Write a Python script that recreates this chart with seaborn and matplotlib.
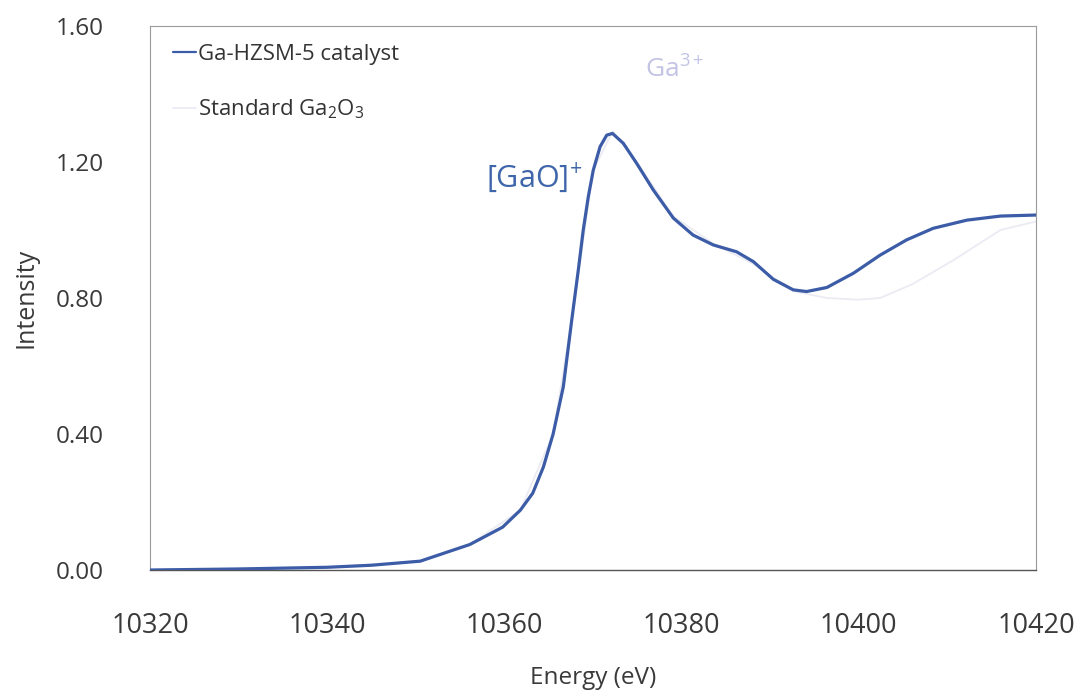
import numpy as np
import pandas as pd
import matplotlib
matplotlib.use("Agg")
import matplotlib.pyplot as plt
import seaborn as sns

# ---- data ----
energy_cat = [10320, 10330, 10340, 10345, 10350.5, 10356.1, 10359.8, 10361.8, 10363.2,
              10364.4, 10365.5, 10366.65, 10367.6, 10368.34, 10368.9, 10369.47, 10370.03,
              10370.8, 10371.55, 10372.2, 10373.42, 10374.93, 10376.8, 10379.07, 10381.3,
              10383.58, 10386.2, 10388.1, 10390.35, 10392.6, 10394.1, 10396.4, 10399.4,
              10402.4, 10405.4, 10408.4, 10412.2, 10416, 10420]
int_cat = [0.0, 0.003, 0.008, 0.014, 0.026, 0.075, 0.126, 0.176, 0.226,
           0.303, 0.40, 0.539, 0.735, 0.882, 1.0, 1.098, 1.176,
           1.245, 1.279, 1.284, 1.255, 1.196, 1.118, 1.035, 0.985,
           0.956, 0.936, 0.907, 0.855, 0.824, 0.819, 0.831, 0.873,
           0.926, 0.971, 1.005, 1.029, 1.041, 1.044]

energy_std = [10320, 10340, 10350.5, 10356.1, 10361.8, 10365.5, 10367.6, 10370.03,
              10372.2, 10374.93, 10379.07, 10383.58, 10388.1, 10392.6, 10396.4,
              10400.0, 10402.4, 10406.0, 10410.6, 10416, 10420]
int_std = [0.0, 0.008, 0.026, 0.075, 0.176, 0.40, 0.735, 1.176,
           1.29, 1.20, 1.04, 0.96, 0.90, 0.82, 0.80,
           0.795, 0.80, 0.84, 0.91, 1.0, 1.025]

series_names = ["Ga-HZSM-5 catalyst", "Standard Ga$_2$O$_3$"]
x_ticks = [10320, 10340, 10360, 10380, 10400, 10420]
y_ticks = [0.0, 0.4, 0.8, 1.2, 1.6]

# ---- build table ----
df = pd.concat([
    pd.DataFrame({"Energy": energy_cat, "Intensity": int_cat, "Series": series_names[0]}),
    pd.DataFrame({"Energy": energy_std, "Intensity": int_std, "Series": series_names[1]}),
])

sns.set_style("white")
plt.rcParams["font.family"] = ["Open Sans", "DejaVu Sans"]
plt.rcParams["mathtext.fontset"] = "custom"
plt.rcParams["mathtext.rm"] = "Open Sans"
plt.rcParams["mathtext.it"] = "Open Sans:italic"
plt.rcParams["mathtext.default"] = "rm"

fig = plt.figure(figsize=(10.8, 6.94), dpi=100)
ax = fig.add_axes([150 / 1080, 1 - 570 / 694, (1036 - 150) / 1080, (570 - 26) / 694])

main_col = "#3c5ca7"
std_col = "#ebebf3"
palette = {series_names[0]: main_col, series_names[1]: std_col}
sns.lineplot(data=df, x="Energy", y="Intensity", hue="Series", hue_order=series_names,
             palette=palette, ax=ax, linewidth=2.3, sort=True, estimator=None)
for line in ax.lines:
    if line.get_color() == std_col:
        line.set_linewidth(1.3)
        line.set_zorder(1)
    else:
        line.set_zorder(3)
        line.set_solid_joinstyle("round")
        line.set_solid_capstyle("round")

ax.set_xlim(10320, 10420)
ax.set_ylim(0, 1.6)
ax.set_xticks(x_ticks)
ax.set_xticklabels([str(t) for t in x_ticks], fontsize=19.5, color="#3a3a3a")
ax.set_yticks(y_ticks)
ax.set_yticklabels([f"{t:.2f}" for t in y_ticks], fontsize=17.5, color="#3a3a3a")
ax.tick_params(axis="x", length=0, pad=30)
ax.tick_params(axis="y", length=0, pad=33)

ax.set_xlabel("Energy (eV)", fontsize=17.5, color="#3a3a3a")
ax.xaxis.set_label_coords(0.5, -0.176)
ax.set_ylabel("Intensity", fontsize=18, color="#3a3a3a")
ax.yaxis.set_label_coords(-0.126, 0.5)

for side in ["left", "top", "right"]:
    ax.spines[side].set_color("#9a9a9a")
    ax.spines[side].set_linewidth(0.8)
ax.spines["bottom"].set_color("#555555")
ax.spines["bottom"].set_linewidth(1.0)

leg = ax.legend(loc="upper left", frameon=False, fontsize=16, handlelength=1.05,
                handletextpad=0.05, labelspacing=1.45, borderpad=0.0,
                bbox_to_anchor=(12 / 886, 1 - 7 / 544))
for t in leg.get_texts():
    t.set_color("#333333")
leg.get_lines()[0].set_linewidth(1.6)

ax.text(10368.8, 1.126, "[GaO]$^{+}$", fontsize=22, color="#3f66ab", ha="right", va="baseline")
ax.text(10375.9, 1.447, "Ga$^{3+}$", fontsize=19, color="#c3c3e6", ha="left", va="baseline")

fig.savefig("out.png", dpi=100)
